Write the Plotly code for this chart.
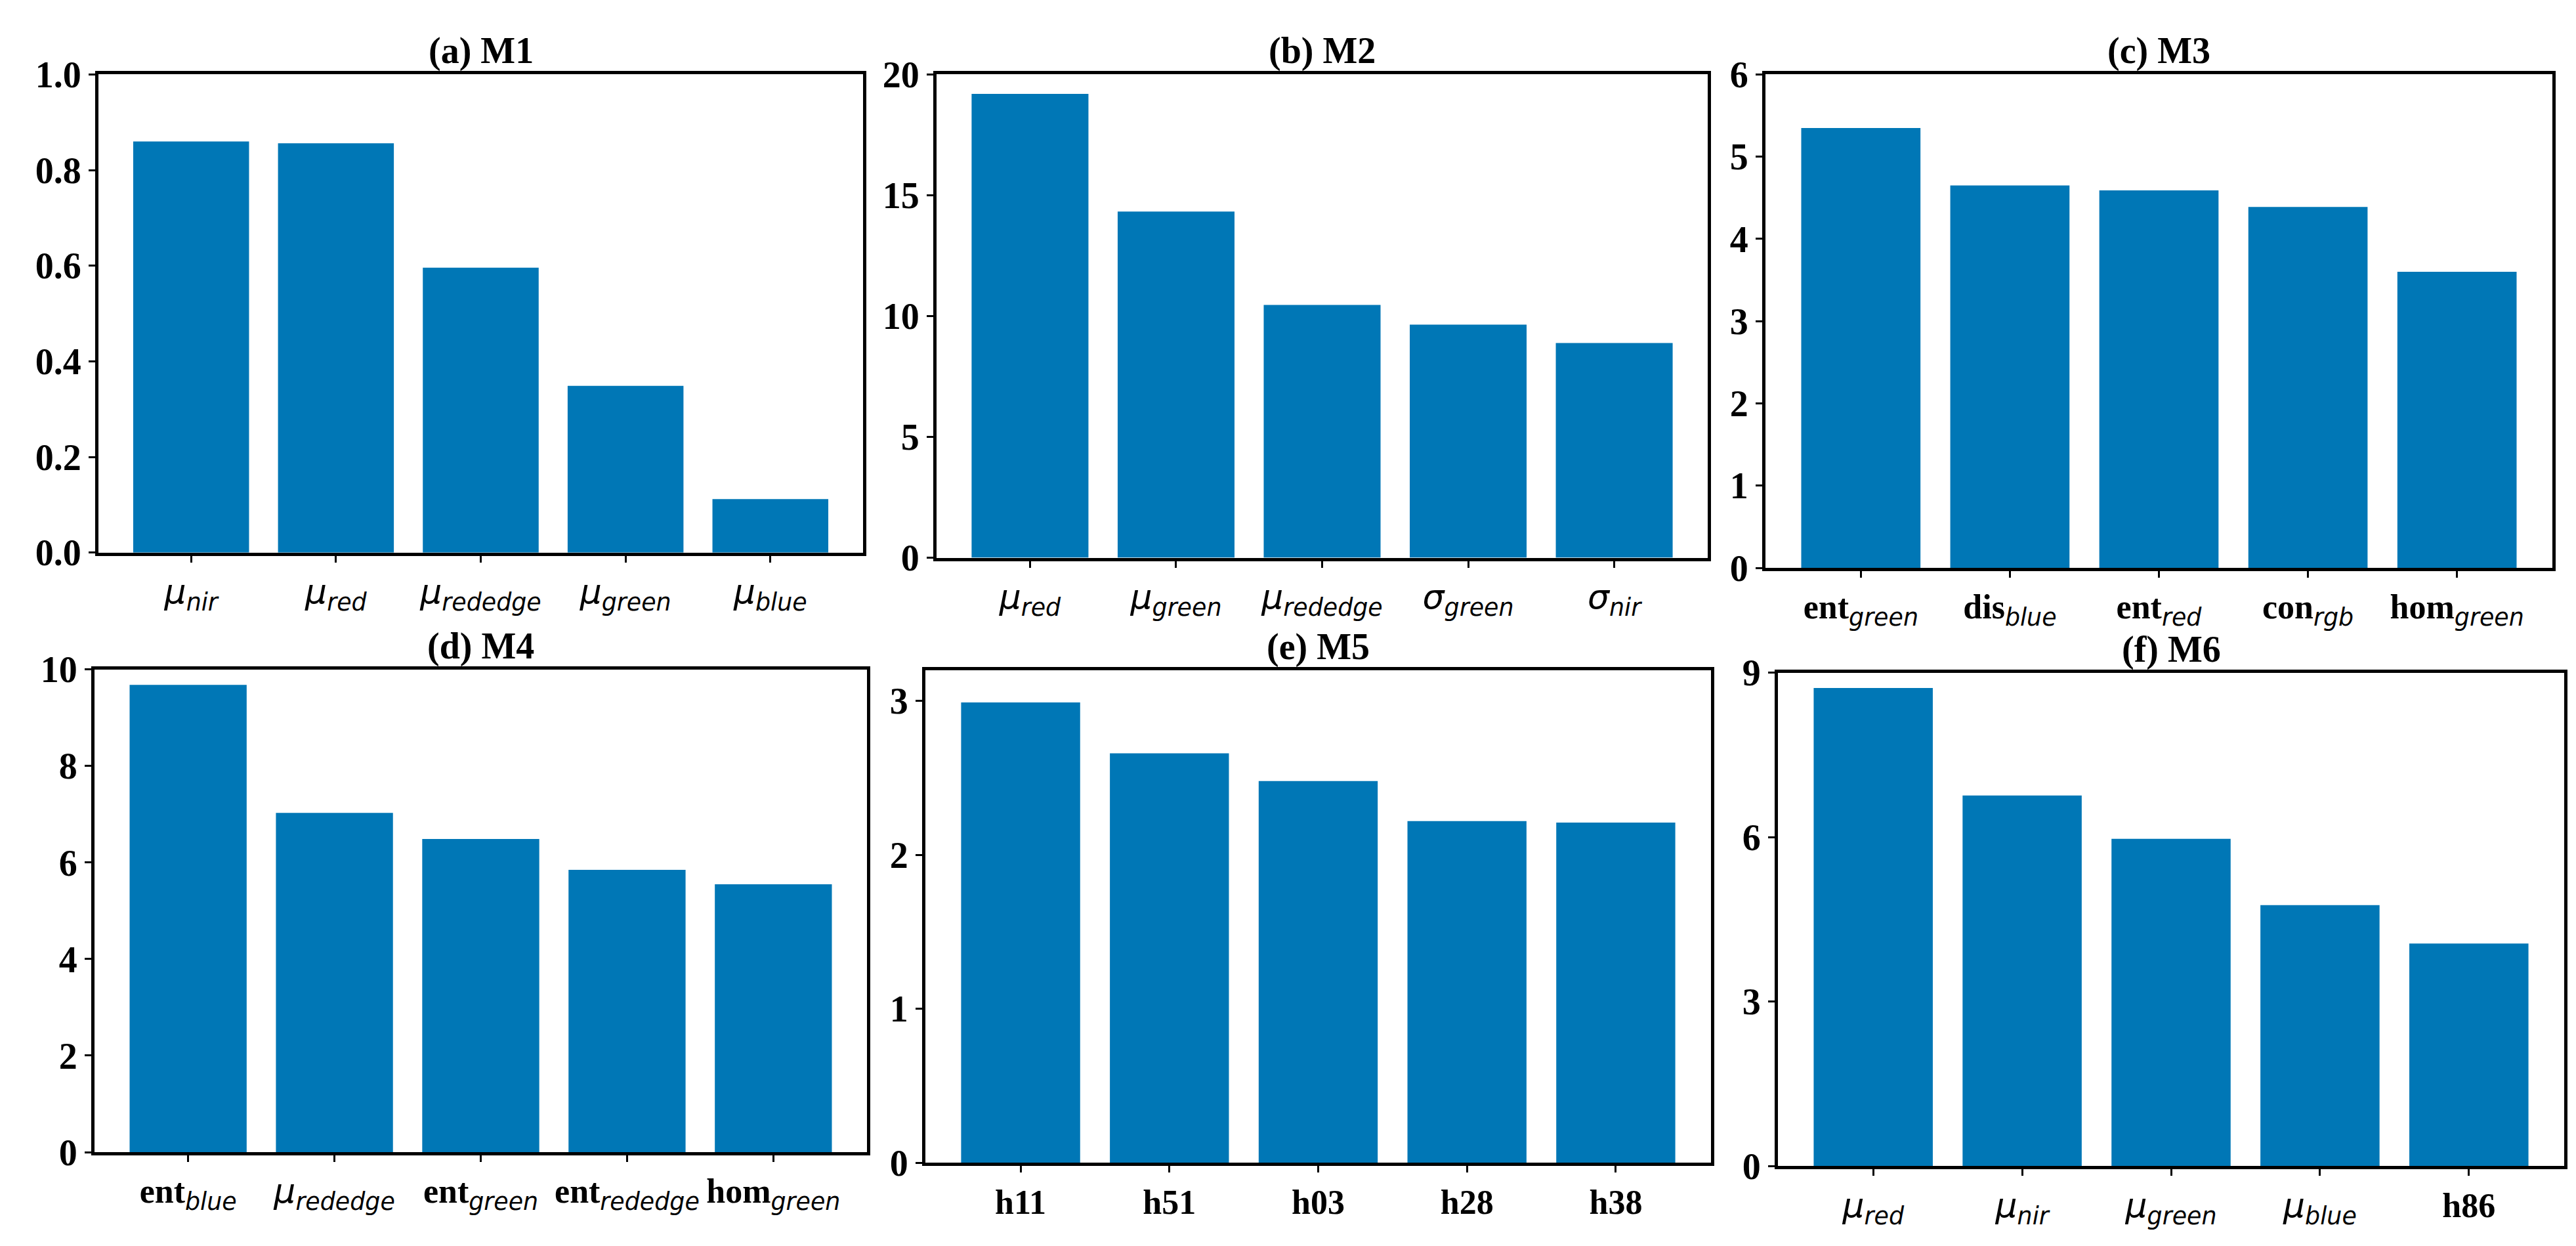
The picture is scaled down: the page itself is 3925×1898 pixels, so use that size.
import plotly.graph_objects as go

# ---------------- data ----------------
titles = ["(a) M1", "(b) M2", "(c) M3", "(d) M4", "(e) M5", "(f) M6"]

m1_labels = ["μ_nir", "μ_red", "μ_rededge", "μ_green", "μ_blue"]
m1_values = [0.860, 0.856, 0.596, 0.349, 0.112]

m2_labels = ["μ_red", "μ_green", "μ_rededge", "σ_green", "σ_nir"]
m2_values = [19.2, 14.33, 10.46, 9.65, 8.89]

m3_labels = ["ent_green", "dis_blue", "ent_red", "con_rgb", "hom_green"]
m3_values = [5.35, 4.65, 4.59, 4.39, 3.60]

m4_labels = ["ent_blue", "μ_rededge", "ent_green", "ent_rededge", "hom_green"]
m4_values = [9.68, 7.03, 6.49, 5.85, 5.55]

m5_labels = ["h11", "h51", "h03", "h28", "h38"]
m5_values = [2.99, 2.66, 2.48, 2.22, 2.21]

m6_labels = ["μ_red", "μ_nir", "μ_green", "μ_blue", "h86"]
m6_values = [8.72, 6.76, 5.97, 4.76, 4.06]

y_maxes = [1.0, 20, 6, 10, 3.2, 9]
y_tickvals = [
    [0.0, 0.2, 0.4, 0.6, 0.8, 1.0],
    [0, 5, 10, 15, 20],
    [0, 1, 2, 3, 4, 5, 6],
    [0, 2, 4, 6, 8, 10],
    [0, 1, 2, 3],
    [0, 3, 6, 9],
]
y_ticktext = [
    ["0.0", "0.2", "0.4", "0.6", "0.8", "1.0"],
    ["0", "5", "10", "15", "20"],
    ["0", "1", "2", "3", "4", "5", "6"],
    ["0", "2", "4", "6", "8", "10"],
    ["0", "1", "2", "3"],
    ["0", "3", "6", "9"],
]

# ---------------- styling ----------------
W, H = 3925, 1898
BAR_COLOR = "#0077b6"
SERIF = "Liberation Serif"
SANS = "DejaVu Sans"
FS_TITLE = 56
FS_Y = 56
FS_X = 52

# panel boxes in pixels: (left, right, top, bottom)
boxes = [
    (142, 1307, 78, 831),
    (1419, 2594, 78, 839),
    (2682, 3881, 78, 855),
    (136, 1313, 1015, 1775),
    (1402, 2599, 1016, 1792),
    (2701, 3899, 1020, 1797),
]


def fmt_label(lbl):
    if "_" not in lbl:
        return "<b>%s</b>" % lbl
    base, sub = lbl.split("_", 1)
    if base in ("μ", "σ"):
        return ('<span style="font-family:\'%s\'"><i>%s</i><sub><i>%s</i></sub></span>'
                % (SANS, base, sub))
    return ('<b>%s</b><span style="font-family:\'%s\'"><sub><i>%s</i></sub></span>'
            % (base, SANS, sub))


labels_all = [m1_labels, m2_labels, m3_labels, m4_labels, m5_labels, m6_labels]
values_all = [m1_values, m2_values, m3_values, m4_values, m5_values, m6_values]

fig = go.Figure()
annotations = []
layout_axes = {}

for i, (labels, values) in enumerate(zip(labels_all, values_all)):
    n = i + 1
    xa = "x" if n == 1 else "x%d" % n
    ya = "y" if n == 1 else "y%d" % n
    positions = list(range(len(labels)))
    fig.add_trace(go.Bar(
        x=positions, y=values, width=0.8,
        marker=dict(color=BAR_COLOR, line=dict(width=0)),
        xaxis=xa, yaxis=ya, showlegend=False,
    ))
    l, r, t, b = boxes[i]
    xdom = [l / W, r / W]
    ydom = [1 - b / H, 1 - t / H]
    xkey = "xaxis" if n == 1 else "xaxis%d" % n
    ykey = "yaxis" if n == 1 else "yaxis%d" % n
    layout_axes[xkey] = dict(
        domain=xdom, anchor=ya, range=[-0.64, len(labels) - 1 + 0.64],
        tickmode="array", tickvals=positions,
        ticktext=[fmt_label(s) for s in labels],
        tickfont=dict(family=SERIF, size=FS_X, color="black"),
        tickangle=0,
        showline=True, linewidth=5, linecolor="black", mirror=True,
        ticks="outside", ticklen=10, tickwidth=3, tickcolor="black",
        showgrid=False, zeroline=False, fixedrange=True,
    )
    layout_axes[ykey] = dict(
        domain=ydom, anchor=xa, range=[0, y_maxes[i]],
        tickmode="array", tickvals=y_tickvals[i], ticktext=y_ticktext[i],
        tickfont=dict(family=SERIF, size=FS_Y, color="black", weight="bold"),
        showline=True, linewidth=5, linecolor="black", mirror=True,
        ticks="outside", ticklen=10, tickwidth=3, tickcolor="black",
        showgrid=False, zeroline=False, fixedrange=True,
    )
    annotations.append(dict(
        text="<b>%s</b>" % titles[i], xref="paper", yref="paper",
        x=(xdom[0] + xdom[1]) / 2, y=ydom[1], xanchor="center", yanchor="bottom",
        yshift=2, showarrow=False,
        font=dict(family=SERIF, size=FS_TITLE, color="black"),
    ))

fig.update_layout(
    width=W, height=H,
    margin=dict(l=0, r=0, t=0, b=0),
    paper_bgcolor="white", plot_bgcolor="white",
    bargap=0.2,
    annotations=annotations,
    **layout_axes,
)

fig.write_html("out.html")
